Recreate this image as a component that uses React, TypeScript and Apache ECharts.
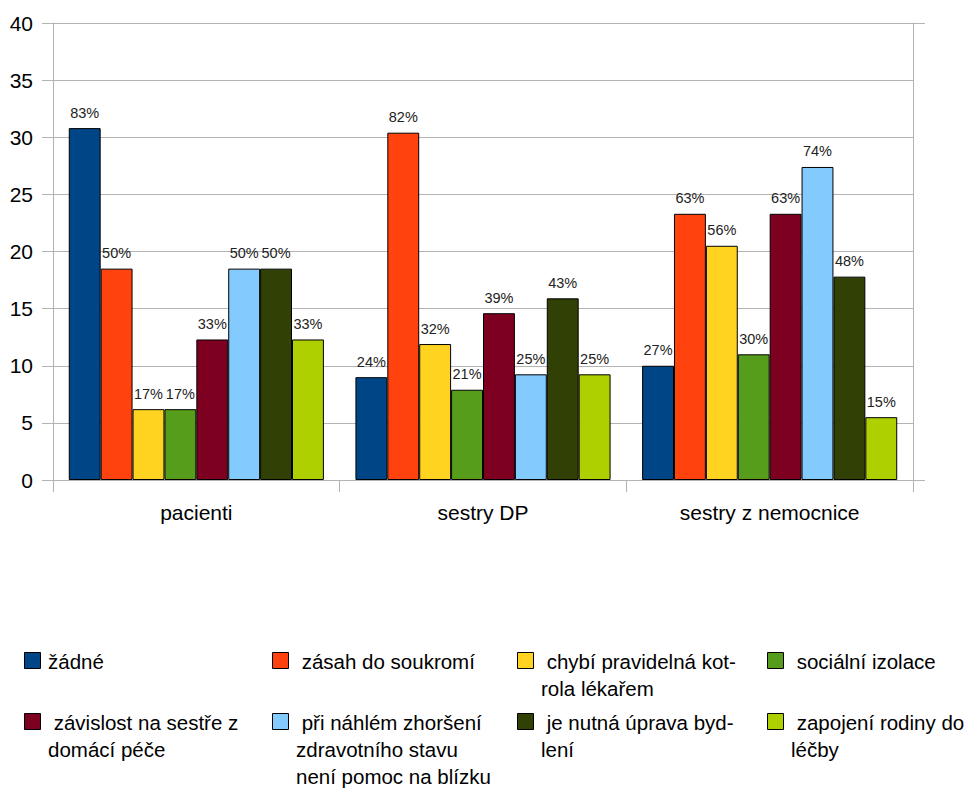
import React, { useEffect, useRef } from "react";
import * as echarts from "echarts";

const categories = ["pacienti", "sestry DP", "sestry z nemocnice"];

const seriesNames = [
  "žádné",
  "zásah do soukromí",
  "chybí pravidelná kontrola lékařem",
  "sociální izolace",
  "závislost na sestře z domácí péče",
  "při náhlém zhoršení zdravotního stavu není pomoc na blízku",
  "je nutná úprava bydlení",
  "zapojení rodiny do léčby",
];

const legendLines = [
  ["žádné"],
  [" zásah do soukromí"],
  [" chybí pravidelná kot-", "rola lékařem"],
  [" sociální izolace"],
  [" závislost na sestře z", "domácí péče"],
  [" při náhlém zhoršení", "zdravotního stavu", "není pomoc na blízku"],
  [" je nutná úprava byd-", "lení"],
  [" zapojení rodiny do", "léčby"],
];

const colors = ["#004586", "#ff420e", "#ffd320", "#579d1c", "#7e0021", "#83caff", "#314004", "#aecf00"];

// values per series (pacienti, sestry DP, sestry z nemocnice)
const zadne = [30.8, 9.0, 10.0];
const zasah = [18.5, 30.4, 23.3];
const chybi = [6.2, 11.9, 20.5];
const socialni = [6.2, 7.9, 11.0];
const zavislost = [12.3, 14.6, 23.3];
const priNahlem = [18.5, 9.25, 27.4];
const upravaBydleni = [18.5, 15.9, 17.8];
const zapojeniRodiny = [12.3, 9.25, 5.5];

// percentage labels per series
const zadnePct = ["83%", "24%", "27%"];
const zasahPct = ["50%", "82%", "63%"];
const chybiPct = ["17%", "32%", "56%"];
const socialniPct = ["17%", "21%", "30%"];
const zavislostPct = ["33%", "39%", "63%"];
const priNahlemPct = ["50%", "25%", "74%"];
const upravaBydleniPct = ["50%", "43%", "48%"];
const zapojeniRodinyPct = ["33%", "25%", "15%"];

const yTicks = [0, 5, 10, 15, 20, 25, 30, 35, 40];

const allValues = [zadne, zasah, chybi, socialni, zavislost, priNahlem, upravaBydleni, zapojeniRodiny];
const allPct = [zadnePct, zasahPct, chybiPct, socialniPct, zavislostPct, priNahlemPct, upravaBydleniPct, zapojeniRodinyPct];

const FONT = "'Liberation Sans', Arial, Helvetica, sans-serif";
const GRAY = "#b3b3b3";

export default function App() {
  const ref = useRef<HTMLDivElement>(null);

  useEffect(() => {
    document.body.style.margin = "0";
    if (!ref.current) return;
    const chart = echarts.init(ref.current, undefined, { renderer: "svg" });

    const squareX = [24, 272, 517, 767];
    const rowTop = [648, 709];
    const legendGraphics: any[] = [];
    legendLines.forEach((lines, i) => {
      const col = i % 4;
      const row = Math.floor(i / 4);
      legendGraphics.push({
        type: "rect",
        shape: { x: squareX[col] + 0.5, y: rowTop[row] + 4.5, width: 16, height: 16 },
        style: { fill: colors[i], stroke: "#000", lineWidth: 1 },
      });
      legendGraphics.push({
        type: "text",
        x: squareX[col] + 24,
        y: rowTop[row],
        style: {
          text: lines.join("\n"),
          font: `20.5px ${FONT}`,
          fill: "#000",
          lineHeight: 27,
          verticalAlign: "top",
          align: "left",
        },
      });
    });

    chart.setOption({
      animation: false,
      backgroundColor: "#ffffff",
      textStyle: { fontFamily: FONT },
      grid: { left: 53, right: 62, top: 23, bottom: 310, containLabel: false },
      xAxis: {
        type: "category",
        data: categories,
        axisLine: { show: true, lineStyle: { color: GRAY, width: 1 } },
        axisTick: { show: true, length: 12, lineStyle: { color: GRAY } },
        axisLabel: { color: "#000", fontSize: 21, margin: 22, fontFamily: FONT },
        splitLine: { show: false },
      },
      yAxis: [
        {
          type: "value",
          min: 0,
          max: 40,
          interval: 5,
          axisLine: { show: true, lineStyle: { color: GRAY } },
          axisTick: { show: true, length: 11, lineStyle: { color: GRAY } },
          axisLabel: {
            color: "#000",
            fontSize: 21,
            margin: 20,
            fontFamily: FONT,
            formatter: (v: number) => (yTicks.includes(v) ? String(v) : ""),
          },
          splitLine: { show: true, lineStyle: { color: GRAY, width: 1 } },
        },
        {
          type: "value",
          position: "right",
          min: 0,
          max: 40,
          interval: 40,
          axisLine: { show: true, lineStyle: { color: GRAY } },
          axisTick: { show: true, length: 12, lineStyle: { color: GRAY } },
          axisLabel: { show: false },
          splitLine: { show: false },
        },
      ],
      series: seriesNames.map((name, i) => ({
        name,
        type: "bar",
        yAxisIndex: 0,
        data: allValues[i],
        barGap: "0%",
        barCategoryGap: "11%",
        itemStyle: { color: colors[i], borderColor: "#000", borderWidth: 1 },
        label: {
          show: true,
          position: "top",
          distance: 8,
          color: "#222",
          fontSize: 14.5,
          fontFamily: FONT,
          formatter: (p: any) => allPct[i][p.dataIndex],
        },
      })),
      graphic: legendGraphics,
    });

    return () => chart.dispose();
  }, []);

  return (
    <div
      ref={ref}
      style={{ position: "absolute", left: 0, top: 0, width: 975, height: 790 }}
    />
  );
}
